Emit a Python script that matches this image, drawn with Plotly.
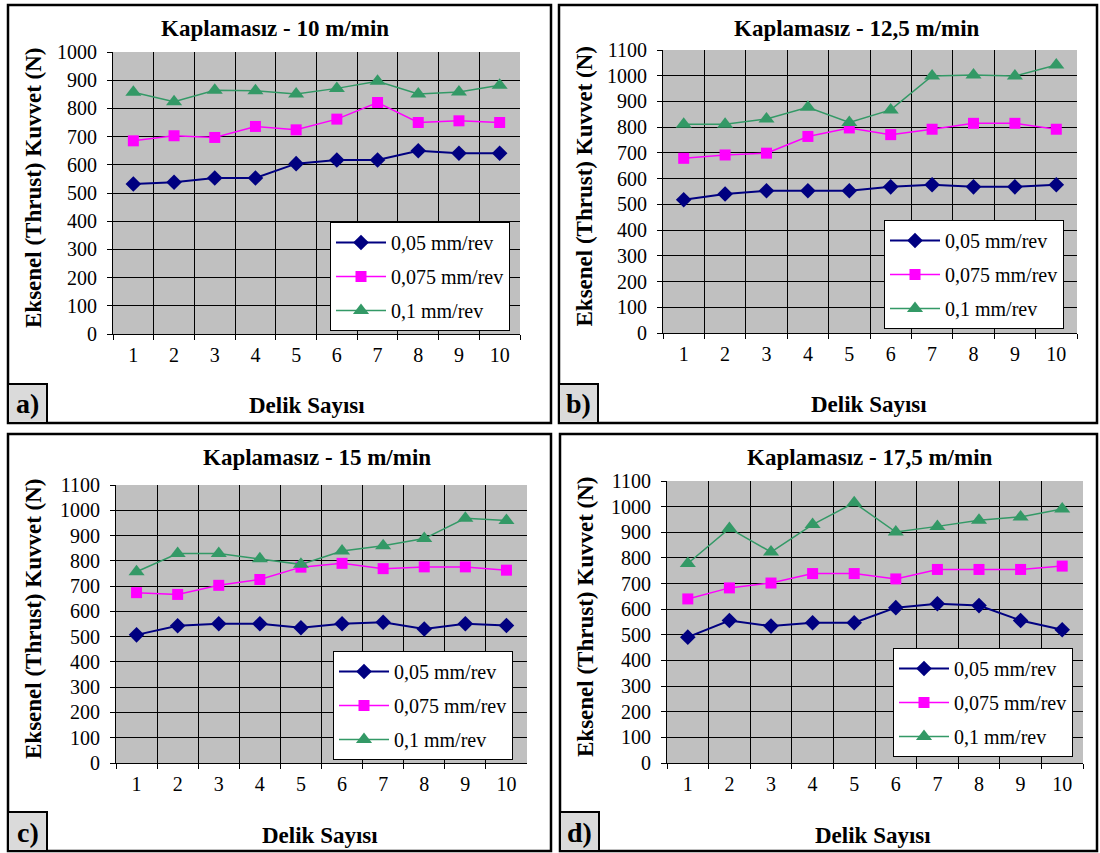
import plotly.graph_objects as go

W, H = 1100, 853

holes = [1, 2, 3, 4, 5, 6, 7, 8, 9, 10]
series_names = ["0,05 mm/rev", "0,075 mm/rev", "0,1 mm/rev"]

titles = ["Kaplamasız - 10 m/min", "Kaplamasız - 12,5 m/min",
          "Kaplamasız - 15 m/min", "Kaplamasız - 17,5 m/min"]
panel_labels = ["a)", "b)", "c)", "d)"]
y_max = [1000, 1100, 1100, 1100]

# panel a: 10 m/min
a_005 = [532, 538, 553, 553, 604, 617, 617, 650, 641, 641]
a_0075 = [685, 703, 697, 736, 724, 762, 821, 750, 756, 750]
a_01 = [857, 824, 864, 863, 851, 871, 896, 851, 858, 882]
# panel b: 12,5 m/min
b_005 = [518, 540, 553, 553, 553, 568, 576, 568, 568, 576]
b_0075 = [679, 692, 699, 764, 797, 771, 792, 815, 815, 792]
b_01 = [811, 811, 832, 877, 818, 867, 999, 1003, 999, 1042]
# panel c: 15 m/min
c_005 = [507, 543, 551, 551, 535, 551, 557, 530, 551, 544]
c_0075 = [674, 667, 703, 726, 775, 790, 769, 776, 776, 763]
c_01 = [757, 829, 829, 808, 786, 839, 860, 888, 968, 960]
# panel d: 17,5 m/min
d_005 = [491, 556, 534, 547, 547, 606, 621, 614, 556, 520]
d_0075 = [640, 683, 702, 739, 739, 718, 755, 755, 755, 768]
d_01 = [778, 915, 823, 930, 1015, 901, 923, 947, 960, 991]

panels = [(a_005, a_0075, a_01), (b_005, b_0075, b_01),
          (c_005, c_0075, c_01), (d_005, d_0075, d_01)]

colors = ["#000080", "#FF00FF", "#339966"]
symbols = ["diamond", "square", "triangle-up"]
msizes = [12, 11, 14]
lwidths = [2, 1.5, 1.5]

FONT = "Liberation Serif"

# pixel geometry
plot_px = [(113, 520, 52, 334), (663, 1077, 50, 333),
           (116, 527, 485, 763), (667, 1083, 481, 763)]
frame_px = [(8, 551, 5, 423), (559, 1097, 5, 423),
            (8, 551, 434, 851), (560, 1097, 434, 851)]
legend_px = [(330, 222), (884, 220), (333, 651), (893, 648)]
title_cx = [275, 857, 317, 870]
xtitle_cx = [307, 869, 320, 873]


def px(x):
    return x / W


def py(y):
    return 1 - y / H


fig = go.Figure()
layout = dict(
    width=W, height=H, autosize=False,
    margin=dict(l=0, r=0, t=0, b=0, pad=0, autoexpand=False),
    paper_bgcolor="white", plot_bgcolor="#C0C0C0",
    font=dict(family=FONT, size=20, color="black"),
    showlegend=True,
)
shapes = []
annotations = []

for i, data in enumerate(panels):
    n = i + 1
    xa = "x" if n == 1 else f"x{n}"
    ya = "y" if n == 1 else f"y{n}"
    lg = "legend" if n == 1 else f"legend{n}"
    for k, vals in enumerate(data):
        fig.add_trace(go.Scatter(
            x=[str(h) for h in holes], y=vals, name=series_names[k],
            mode="lines+markers", xaxis=xa, yaxis=ya, legend=lg,
            legendgroup=f"{n}-{k}",
            line=dict(color=colors[k], width=lwidths[k]),
            marker=dict(symbol=symbols[k], size=msizes[k], color=colors[k]),
        ))
    x0, x1, y0, y1 = plot_px[i]
    layout["xaxis" if n == 1 else f"xaxis{n}"] = dict(
        domain=[px(x0), px(x1)], anchor=ya, type="category",
        tickson="boundaries", range=[-0.5, 9.5],
        showgrid=True, gridcolor="black", gridwidth=1,
        ticks="outside", ticklen=5, tickcolor="black",
        showline=True, linecolor="black", linewidth=1,
        tickfont=dict(family=FONT, size=20), ticklabelstandoff=3,
        fixedrange=True, automargin=False,
    )
    layout["yaxis" if n == 1 else f"yaxis{n}"] = dict(
        domain=[py(y1), py(y0)], anchor=xa, range=[0, y_max[i]], dtick=100,
        showgrid=True, gridcolor="black", gridwidth=1, zeroline=False,
        ticks="outside", ticklen=5, tickcolor="black",
        showline=True, linecolor="black", linewidth=1,
        tickfont=dict(family=FONT, size=20), ticklabelstandoff=6,
        fixedrange=True, automargin=False,
    )
    lx, ly = legend_px[i]
    layout[lg] = dict(
        x=px(lx), y=py(ly), xanchor="left", yanchor="top",
        bgcolor="white", bordercolor="black", borderwidth=1,
        font=dict(family=FONT, size=20, color="black"),
        itemwidth=50, tracegroupgap=5,
    )
    # outer frame
    fx0, fx1, fy0, fy1 = frame_px[i]
    shapes.append(dict(type="rect", xref="paper", yref="paper",
                       x0=px(fx0), x1=px(fx1), y0=py(fy1), y1=py(fy0),
                       line=dict(color="black", width=2.5)))
    # panel label box
    shapes.append(dict(type="rect", xref="paper", yref="paper",
                       x0=px(fx0), x1=px(fx0 + 39), y0=py(fy1), y1=py(fy1 - 39),
                       fillcolor="#DADADA", line=dict(color="black", width=2)))
    annotations.append(dict(text=f"<b>{panel_labels[i]}</b>", xref="paper", yref="paper",
                            x=px(fx0 + 19.5), y=py(fy1 - 19), showarrow=False,
                            xanchor="center", yanchor="middle",
                            font=dict(family=FONT, size=28, color="black")))
    # title
    annotations.append(dict(text=f"<b>{titles[i]}</b>", xref="paper", yref="paper",
                            x=px(title_cx[i]), y=py(fy0 + 23), showarrow=False,
                            xanchor="center", yanchor="middle",
                            font=dict(family=FONT, size=23, color="black")))
    # x-axis title
    annotations.append(dict(text="<b>Delik Sayısı</b>", xref="paper", yref="paper",
                            x=px(xtitle_cx[i]), y=py(y1 + 72), showarrow=False,
                            xanchor="center", yanchor="middle",
                            font=dict(family=FONT, size=23, color="black")))
    # y-axis title
    annotations.append(dict(text="<b>Eksenel (Thrust) Kuvvet (N)</b>", xref="paper", yref="paper",
                            x=px(fx0 + 25), y=py((y0 + y1) / 2 - 5), showarrow=False,
                            textangle=-90, xanchor="center", yanchor="middle",
                            font=dict(family=FONT, size=23, color="black")))

layout["shapes"] = shapes
layout["annotations"] = annotations
fig.update_layout(**layout)
fig.write_html("out.html", config={"displayModeBar": False, "responsive": False},
               post_script="document.body.style.margin='0';")
